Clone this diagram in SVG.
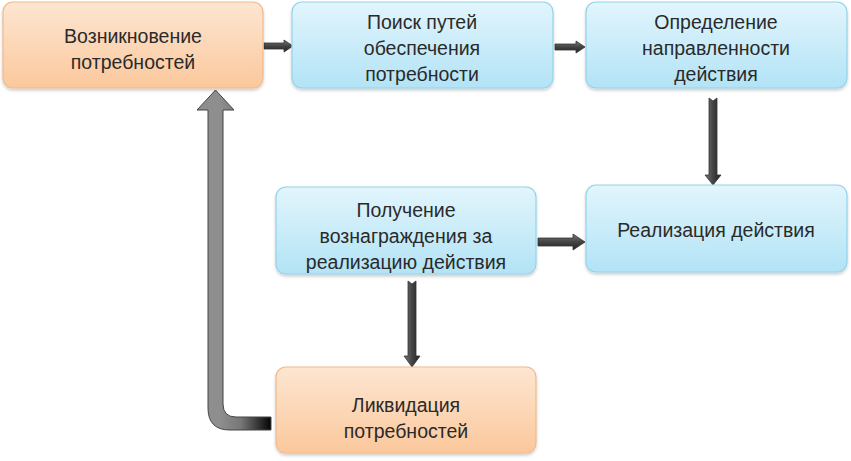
<svg xmlns="http://www.w3.org/2000/svg" width="851" height="461" viewBox="0 0 851 461">
<defs>
<linearGradient id="gO" x1="0" y1="0" x2="0" y2="1"><stop offset="0" stop-color="#fde6d2"/><stop offset="1" stop-color="#fbc89c"/></linearGradient>
<linearGradient id="gB" x1="0" y1="0" x2="0" y2="1"><stop offset="0" stop-color="#e2f5fc"/><stop offset="1" stop-color="#b2e3f6"/></linearGradient>
<linearGradient id="gAh" x1="0" y1="0" x2="0" y2="1"><stop offset="0" stop-color="#777"/><stop offset="0.5" stop-color="#444"/><stop offset="1" stop-color="#222"/></linearGradient>
<linearGradient id="gAv" x1="0" y1="0" x2="1" y2="0"><stop offset="0" stop-color="#777"/><stop offset="0.5" stop-color="#444"/><stop offset="1" stop-color="#222"/></linearGradient>
<linearGradient id="gL" gradientUnits="userSpaceOnUse" x1="220" y1="0" x2="272" y2="0"><stop offset="0" stop-color="#8e8e8e"/><stop offset="0.4" stop-color="#777"/><stop offset="1" stop-color="#000"/></linearGradient>
<filter id="sh" x="-5%" y="-10%" width="110%" height="125%"><feDropShadow dx="0" dy="2" stdDeviation="1.5" flood-color="#000" flood-opacity="0.2"/></filter>
</defs>
<style>
.o{fill:url(#gO);stroke:#f2b98a;stroke-width:1.2}
.b{fill:url(#gB);stroke:#93d3ea;stroke-width:1.2}
text{font-family:"Liberation Sans",Arial,sans-serif;font-size:19.5px;fill:#2a2a2a;text-anchor:middle}
.ah{fill:url(#gAh);stroke:#333;stroke-width:0.8}
.av{fill:url(#gAv);stroke:#333;stroke-width:0.8}
</style>
<g id="connectors">
<path class="ah" d="M264,43 L284,43 L284,40 L293,46 L284,52 L284,49 L264,49 Z"/>
<path class="ah" d="M555,44 L576,44 L576,41 L585,47 L576,53 L576,50 L555,50 Z"/>
<path class="av" d="M709,98 L713,101 L717,98 L717,175 L721,175 L713,185 L705,175 L709,175 Z"/>
<path class="ah" d="M538,238 L573,238 L573,234 L585,242 L573,250 L573,246 L538,246 Z"/>
<path class="av" d="M408,281 L412,284 L416,281 L416,356 L420,356 L412,367 L404,356 L408,356 Z"/>
<path d="M271,417 L236,417 Q223,417 223,404 L223,110 L234,110 L215.5,90 L197,110 L208,110 L208,408 Q208,430 230,430 L271,430 Z" fill="url(#gL)" stroke="#444" stroke-width="1"/>
</g>
<g id="n1" filter="url(#sh)"><rect class="o" x="3" y="2" width="260" height="86" rx="10"/></g>
<g id="n1t"><text x="133" y="43">Возникновение</text><text x="133" y="69">потребностей</text></g>
<g id="n2" filter="url(#sh)"><rect class="b" x="292" y="2" width="261" height="86" rx="10"/></g>
<g id="n2t"><text x="422" y="29">Поиск путей</text><text x="422" y="55">обеспечения</text><text x="422" y="81">потребности</text></g>
<g id="n3" filter="url(#sh)"><rect class="b" x="586" y="2" width="261" height="86" rx="10"/></g>
<g id="n3t"><text x="716" y="29">Определение</text><text x="716" y="55">направленности</text><text x="716" y="81">действия</text></g>
<g id="n4" filter="url(#sh)"><rect class="b" x="586" y="185" width="261" height="87" rx="10"/></g>
<g id="n4t"><text x="716" y="237">Реализация действия</text></g>
<g id="n5" filter="url(#sh)"><rect class="b" x="276" y="187" width="260" height="87" rx="10"/></g>
<g id="n5t"><text x="406" y="217">Получение</text><text x="406" y="243">вознаграждения за</text><text x="406" y="269">реализацию действия</text></g>
<g id="n6" filter="url(#sh)"><rect class="o" x="276" y="367" width="260" height="86" rx="10"/></g>
<g id="n6t"><text x="406" y="412">Ликвидация</text><text x="406" y="438">потребностей</text></g>
</svg>
